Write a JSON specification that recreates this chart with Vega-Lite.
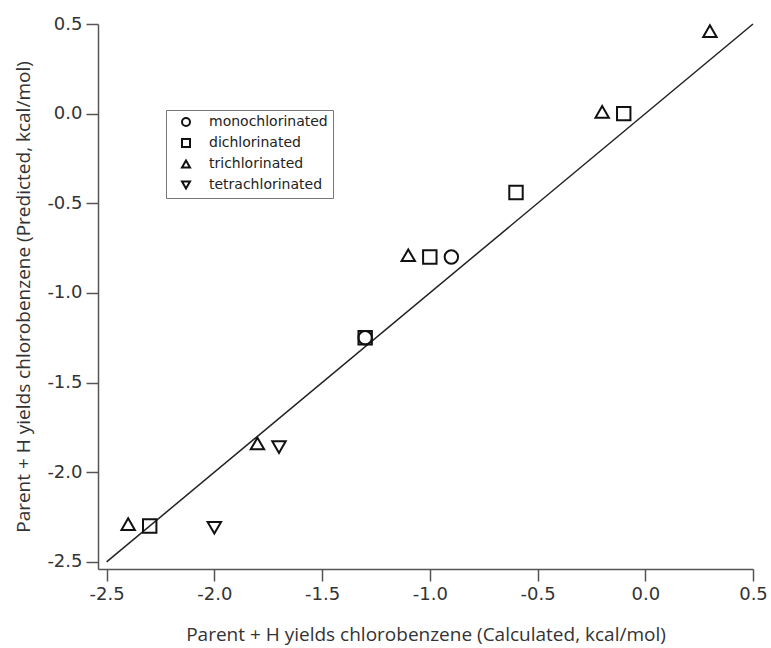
{
  "$schema": "https://vega.github.io/schema/vega-lite/v6.json",
  "width": 655,
  "height": 545,
  "autosize": {"type": "none"},
  "padding": {"left": 98, "top": 24, "right": 18, "bottom": 79},
  "background": "white",
  "config": {
    "view": {"stroke": null},
    "axis": {
      "grid": false,
      "domainColor": "#555",
      "tickColor": "#555",
      "domainWidth": 1.5,
      "tickWidth": 1.5,
      "tickSize": 12,
      "labelFont": "DejaVu Sans",
      "labelFontSize": 18,
      "labelColor": "#333",
      "labelOverlap": false,
      "labelFlush": false,
      "titleFont": "Open Sans",
      "titleFontSize": 19,
      "titleFontWeight": "normal",
      "titleColor": "#333"
    }
  },
  "layer": [
    {
      "data": {"values": [{"x": -2.5, "y": -2.5}, {"x": 0.5, "y": 0.5}]},
      "mark": {"type": "line", "color": "#222", "strokeWidth": 1.5},
      "encoding": {
        "x": {
          "field": "x", "type": "quantitative",
          "scale": {"domain": [-2.54, 0.5], "nice": false, "zero": false},
          "axis": {
            "values": [-2.5, -2, -1.5, -1, -0.5, 0, 0.5],
            "labelExpr": "replace(format(datum.value, '.1f'), '\u2212', '-')",
            "labelPadding": 4,
            "title": "Parent + H yields chlorobenzene (Calculated, kcal/mol)",
            "titlePadding": 22
          }
        },
        "y": {
          "field": "y", "type": "quantitative",
          "scale": {"domain": [-2.54, 0.5], "nice": false, "zero": false},
          "axis": {
            "values": [-2.5, -2, -1.5, -1, -0.5, 0, 0.5],
            "labelExpr": "replace(format(datum.value, '.1f'), '\u2212', '-')",
            "labelPadding": 4,
            "title": "Parent + H yields chlorobenzene (Predicted, kcal/mol)",
            "titlePadding": 13
          }
        }
      }
    },
    {
      "data": {
        "values": [
          {"group": "dichlorinated", "calc": -2.3, "pred": -2.3},
          {"group": "dichlorinated", "calc": -1.3, "pred": -1.25},
          {"group": "dichlorinated", "calc": -1.0, "pred": -0.8},
          {"group": "dichlorinated", "calc": -0.6, "pred": -0.44},
          {"group": "dichlorinated", "calc": -0.1, "pred": 0.0},
          {"group": "monochlorinated", "calc": -0.9, "pred": -0.8},
          {"group": "monochlorinated", "calc": -1.3, "pred": -1.25},
          {"group": "trichlorinated", "calc": -2.4, "pred": -2.29},
          {"group": "trichlorinated", "calc": -1.8, "pred": -1.84},
          {"group": "trichlorinated", "calc": -1.1, "pred": -0.79},
          {"group": "trichlorinated", "calc": -0.2, "pred": 0.01},
          {"group": "trichlorinated", "calc": 0.3, "pred": 0.46},
          {"group": "tetrachlorinated", "calc": -2.0, "pred": -2.31},
          {"group": "tetrachlorinated", "calc": -1.7, "pred": -1.86}
        ]
      },
      "mark": {"type": "point", "filled": false, "color": "#111", "strokeWidth": 2, "size": 180, "opacity": 1},
      "encoding": {
        "x": {"field": "calc", "type": "quantitative"},
        "y": {"field": "pred", "type": "quantitative"},
        "shape": {
          "field": "group", "type": "nominal",
          "scale": {
            "domain": ["monochlorinated", "dichlorinated", "trichlorinated", "tetrachlorinated"],
            "range": ["circle", "square", "triangle-up", "triangle-down"]
          },
          "legend": {
            "orient": "none",
            "legendX": 68,
            "legendY": 86,
            "title": null,
            "strokeColor": "#777",
            "fillColor": "white",
            "padding": 5,
            "labelFont": "DejaVu Sans",
            "labelFontSize": 14,
            "labelColor": "#222",
            "rowPadding": 5,
            "labelOffset": 16,
            "symbolOffset": 8,
            "symbolSize": 64,
            "symbolStrokeWidth": 2,
            "symbolStrokeColor": "#111",
            "symbolFillColor": "white"
          }
        }
      }
    }
  ]
}
